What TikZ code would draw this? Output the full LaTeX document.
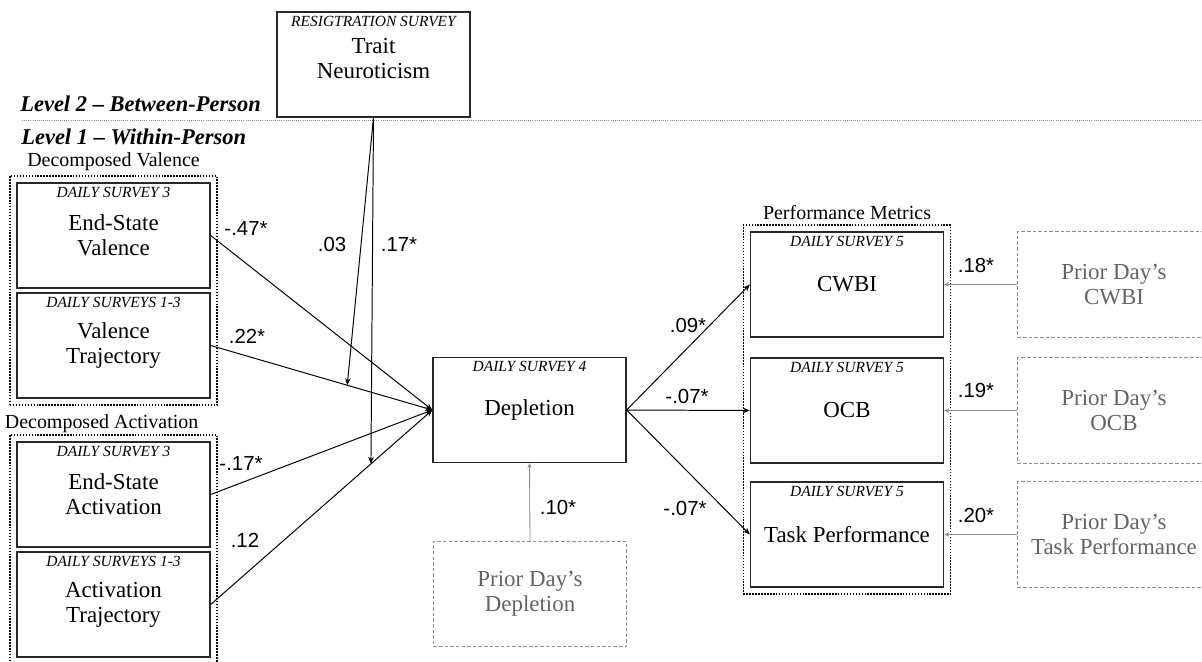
\documentclass[tikz,border=0pt]{standalone}
\usepackage{fontspec}
\setmainfont{Liberation Serif}
\newfontfamily\coeffont{Liberation Sans}
\usepackage{tikz}
\usetikzlibrary{arrows,arrows.meta,positioning,fit}
\usepackage{xcolor}
\definecolor{boxline}{RGB}{40,40,40}
\definecolor{pathgray}{RGB}{140,140,140}
\definecolor{priorgray}{RGB}{100,100,100}
\tikzstyle{var} = [rectangle, minimum width=4.825cm, minimum height=2.625cm, inner sep=0pt, align=center, draw=boxline, line width=0.9pt, font=\fontsize{16.3}{17.8}\selectfont]
\tikzstyle{prior} = [var, draw=pathgray, dash pattern=on 2.5pt off 1.5pt, line width=0.7pt, text=priorgray]
\tikzstyle{tag} = [inner sep=1pt, font=\fontsize{11}{12}\selectfont\itshape]
\tikzstyle{group} = [draw, densely dotted, line width=1.1pt, inner sep=0.16cm]
\tikzstyle{grouplabel} = [inner sep=1pt, font=\fontsize{14.2}{16}\selectfont]
\tikzstyle{level} = [inner sep=0pt, anchor=base west, font=\fontsize{16}{18}\selectfont\bfseries\itshape]
\tikzstyle{coef} = [inner sep=0pt, font=\coeffont\fontsize{14.5}{16}\selectfont]
\tikzstyle{arrow} = [line width=0.7pt,->,>={Stealth[length=5pt,width=4pt]}]
\tikzstyle{priorarrow} = [line width=0.6pt,->,>={Stealth[length=3.5pt,width=3pt]},color=pathgray]

\begin{document}
\begin{tikzpicture}[x=0.025cm, y=-0.025cm]
\useasboundingbox (0,0) rectangle (1202,662);
\clip (0,0) rectangle (1202,662);

% Between-person moderator
\node (trait) [var, text depth=0.3cm] at (373.5,64.5) {Trait\\Neuroticism};
\node (trait-tag) [tag, below=2pt of trait.north] {RESIGTRATION SURVEY};

% Level split
\coordinate (split-l) at (22,120);
\coordinate (split-r) at (1202,120);
\draw[densely dotted, line width=0.5pt, color=pathgray] (split-l) -- (split-r);
\node (lvl2) [level] at (20,112) {Level 2 -- Between-Person};
\node (lvl1) [level] at (21,145) {Level 1 -- Within-Person};

% Decomposed predictors
\node (esv) [var] at (113.5,235.5) {End-State\\Valence};
\node (vtraj) [var] at (113.5,345.5) {Valence\\Trajectory};
\node (esa) [var] at (113.5,494.5) {End-State\\Activation};
\node (atraj) [var] at (113.5,604.5) {Activation\\Trajectory};
\node (esv-tag) [tag, below=2pt of esv.north] {DAILY SURVEY 3};
\node (vtraj-tag) [tag, below=2pt of vtraj.north] {DAILY SURVEYS 1-3};
\node (esa-tag) [tag, below=2pt of esa.north] {DAILY SURVEY 3};
\node (atraj-tag) [tag, below=2pt of atraj.north] {DAILY SURVEYS 1-3};

\node (valgrp) [group, fit=(esv)(vtraj)] {};
\node (actgrp) [group, fit=(esa)(atraj)] {};
\node (vallbl) [grouplabel, above=2pt of valgrp] {Decomposed Valence};
\node (actlbl) [grouplabel, anchor=south west] at ([xshift=-0.15cm]actgrp.north west) {Decomposed Activation};

% Mediator
\node (dep) [var] at (529.5,410) {Depletion};
\node (dep-tag) [tag, below=2pt of dep.north] {DAILY SURVEY 4};
\node (pdep) [prior] at (530,594) {Prior Day's\\Depletion};

% Outcomes
\node (cwbi) [var] at (847,284.5) {CWBI};
\node (ocb) [var] at (847,410.5) {OCB};
\node (task) [var] at (847,534.5) {Task Performance};
\node (cwbi-tag) [tag, below=2pt of cwbi.north] {DAILY SURVEY 5};
\node (ocb-tag) [tag, below=2pt of ocb.north] {DAILY SURVEY 5};
\node (task-tag) [tag, below=2pt of task.north] {DAILY SURVEY 5};
\node (perfgrp) [group, fit=(cwbi)(task)] {};
\node (perflbl) [grouplabel, above=2pt of perfgrp] {Performance Metrics};

\node (pcwbi) [prior] at (1114,284.5) {Prior Day's\\CWBI};
\node (pocb) [prior] at (1114,410.5) {Prior Day's\\OCB};
\node (ptask) [prior] at (1114,534.5) {Prior Day's\\Task Performance};

% Paths into depletion
\draw[arrow] (esv.east) -- (dep.west);
\draw[arrow] (vtraj.east) -- coordinate[pos=0.616] (modval) (dep.west);
\draw[arrow] (esa.east) -- (dep.west);
\draw[arrow] (atraj.east) -- coordinate[pos=0.723] (modact) (dep.west);

% Cross-level moderation
\draw[arrow] (trait.south) -- (modval);
\draw[arrow] (trait.south) -- (modact);

% Paths out of depletion
\draw[arrow] (dep.east) -- (cwbi.west);
\draw[arrow] (dep.east) -- (ocb.west);
\draw[arrow] (dep.east) -- (task.west);

% Lagged controls
\draw[priorarrow] (pdep.north) -- (dep.south);
\draw[priorarrow] (pcwbi.west) -- (cwbi.east);
\draw[priorarrow] (pocb.west) -- (ocb.east);
\draw[priorarrow] (ptask.west) -- (task.east);

% Coefficients
\node (c-esv) [coef] at (246,228) {-.47*};
\node (c-vtraj) [coef] at (247,336) {.22*};
\node (c-esa) [coef] at (241,463) {-.17*};
\node (c-atraj) [coef] at (245,540) {.12};
\node (c-modval) [coef] at (332,244) {.03};
\node (c-modact) [coef] at (399,244) {.17*};
\node (c-pdep) [coef] at (558,507) {.10*};
\node (c-cwbi) [coef] at (688,325) {.09*};
\node (c-ocb) [coef] at (687,396) {-.07*};
\node (c-task) [coef] at (685,508) {-.07*};
\node (c-pcwbi) [coef] at (976,265) {.18*};
\node (c-pocb) [coef] at (976,390) {.19*};
\node (c-ptask) [coef] at (976,515) {.20*};
\end{tikzpicture}
\end{document}
